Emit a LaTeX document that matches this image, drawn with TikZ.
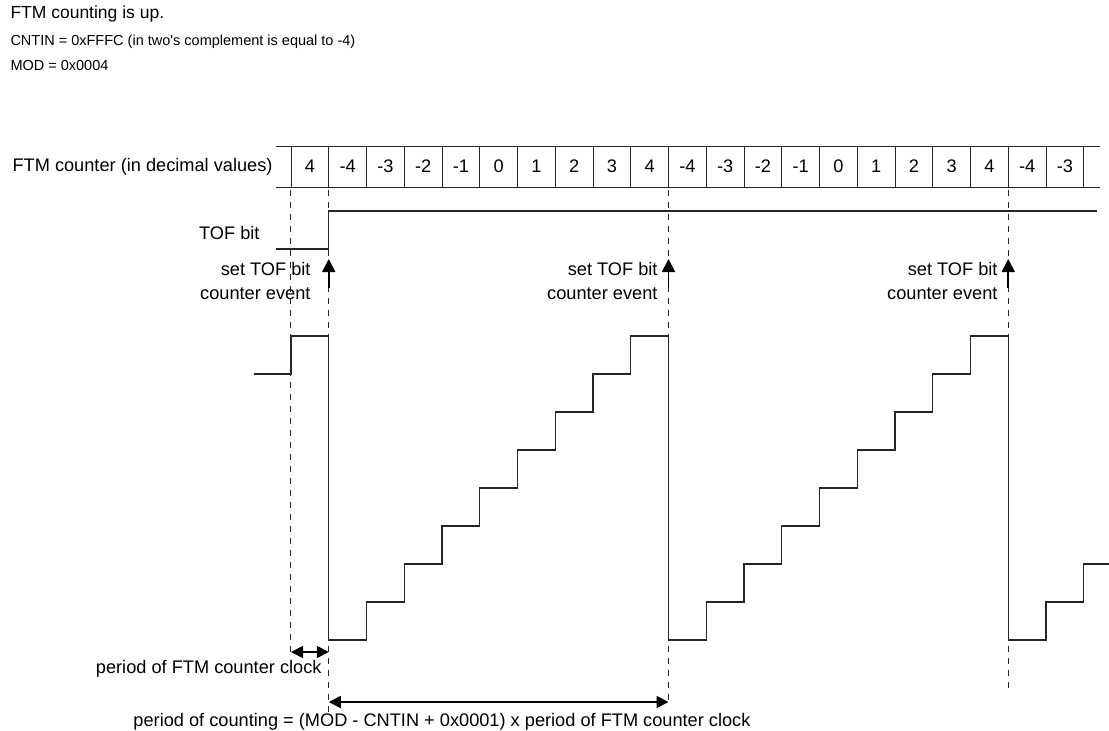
\documentclass[tikz,border=0pt]{standalone}
\usepackage{fontspec}
\newfontfamily\arial{Liberation Sans}
\usetikzlibrary{arrows.meta}

\newcommand{\setevent}[3]{
	\coordinate (#1ev) at (#2,288);
	\coordinate (#1tof) at (#2,259);
	\draw[tip] (#1ev) -- (#1tof);
	\node[txt, align=right, anchor=east] (#1lbl) at (#3,281) {set TOF bit\\counter event};
}

\begin{document}
\begin{tikzpicture}
	[x=1pt, y=-1pt, line width=1pt, black!85,
	wave/.style={line width=1.2pt},
	guide/.style={line width=1pt, dash pattern=on 6pt off 6pt},
	tip/.style={-{Triangle[length=13pt,width=13pt]}, line width=1.8pt, black},
	span/.style={{Triangle[length=12pt,width=12pt]}-{Triangle[length=12pt,width=12pt]}, line width=1.8pt, black},
	txt/.style={font=\arial\fontsize{18.2}{24}\selectfont, inner sep=0pt, text=black},
	small/.style={font=\arial\fontsize{14.5}{16}\selectfont, inner sep=0pt, anchor=west, text=black}]
	\useasboundingbox (0,0) rectangle (1109,731);
	% header
	\node[txt, font=\arial\fontsize{17.5}{20}\selectfont, anchor=west] (title) at (10,14) {FTM counting is up.};
	\node[small] (cntin) at (10,42) {CNTIN = 0xFFFC (in two's complement is equal to -4)};
	\node[small] (mod) at (10,66) {MOD = 0x0004};
	% counter row
	\node[txt, anchor=east] (cntname) at (273,166.5) {FTM counter (in decimal values)};
	\draw (276,146.5) -- (1100,146.5) (276,187.5) -- (1100,187.5);
	\foreach \v [count=\i from 0] in {4,-4,-3,-2,-1,0,1,2,3,4,-4,-3,-2,-1,0,1,2,3,4,-4,-3}{
		\draw (291+\i*37.75,146.5) --++ (0,41);
		\node[txt] (c\i) at (291+\i*37.75+18.9,166.5) {\v};
	}
	\draw (1083.75,146.5) --++ (0,41);
	% dashed guides
	\foreach \n/\x/\y in {a/290.6/652, b/328.75/712, c/668.5/703, d/1008.25/690}{
		\coordinate (top\n) at (\x,190);
		\coordinate (bot\n) at (\x,\y);
		\draw[guide] (top\n) -- (bot\n);
	}
	% TOF bit
	\node[txt, anchor=east] (tofname) at (260,233) {TOF bit};
	\draw[wave] (276,249) -- (328.75,249) -- (328.75,211) -- (1097,211);
	\setevent{e1}{328.75}{311}
	\setevent{e2}{668.5}{658}
	\setevent{e3}{1008.25}{998}
	% counter
	\draw[wave] (254,374) -- (291,374) -- (291,336) -- (328.75,336)
		\foreach \p in {1,2}{ -- ++(0,304) \foreach \k in {1,...,8}{ -- ++(37.75,0) -- ++(0,-38) } -- ++(37.75,0) }
		-- ++(0,304) -- ++(37.75,0) -- ++(0,-38) -- ++(37.75,0) -- ++(0,-38) -- ++(25.25,0);
	% periods
	\coordinate (clkL) at (291,652);
	\coordinate (clkR) at (328.75,652);
	\draw[span] (clkL) -- (clkR);
	\node[txt, anchor=east] (clkname) at (322,669) {period of FTM counter clock};
	\coordinate (cntL) at (328.75,702);
	\coordinate (cntR) at (668.5,702);
	\draw[span] (cntL) -- (cntR);
	\node[txt] (cntlen) at (442,722) {period of counting = (MOD - CNTIN + 0x0001) x period of FTM counter clock};
\end{tikzpicture}
\end{document}
